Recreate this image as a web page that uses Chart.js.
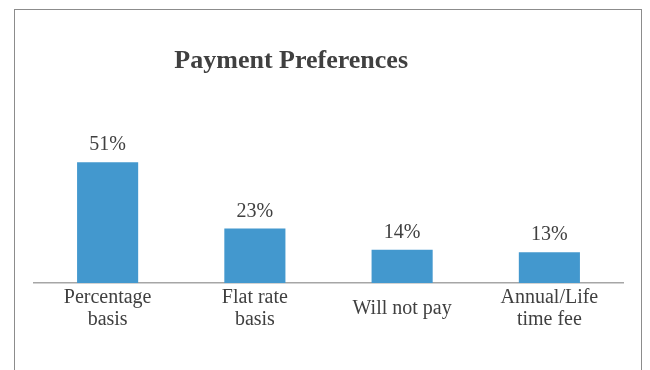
<!DOCTYPE html>
<html>
<head>
<meta charset="utf-8">
<script src="https://cdn.jsdelivr.net/npm/chart.js@4/dist/chart.umd.min.js"></script>
<style>
    html, body { margin: 0; padding: 0; background: #fff; overflow: hidden; }
    #wrap { position: relative; width: 650px; height: 370px; }
    #frame { position: absolute; left: 14px; top: 9px; width: 628px; height: 400px; border: 1px solid #8c8c8c; box-sizing: border-box; }
    #chart { position: absolute; left: 0; top: 0; }
</style>
</head>
<body>
<div id="wrap">
    <div id="frame"></div>
    <canvas id="chart" width="650" height="370"></canvas>
</div>
<script>
const chartTitle = "Payment Preferences";
const categories = [["Percentage", "basis"], ["Flat rate", "basis"], "Will not pay", ["Annual/Life", "time fee"]];
const shares = [51, 23, 14, 13];
const yMax = 60;

const serif = "'Liberation Serif', 'Times New Roman', serif";
const textColor = "#404040";

// title sits a little left of centre, so draw it ourselves
const titlePlugin = {
    id: "sideTitle",
    afterDraw(chart) {
        const ctx = chart.ctx;
        ctx.save();
        ctx.font = "bold 26px " + serif;
        ctx.fillStyle = textColor;
        ctx.textAlign = "center";
        ctx.textBaseline = "alphabetic";
        ctx.fillText(chartTitle, chart.width * 0.448, 68);
        ctx.restore();
    }
};

// percentage written above each bar
const valuePlugin = {
    id: "barValues",
    afterDatasetsDraw(chart) {
        const ctx = chart.ctx;
        const meta = chart.getDatasetMeta(0);
        ctx.save();
        ctx.font = "20px " + serif;
        ctx.fillStyle = textColor;
        ctx.textAlign = "center";
        ctx.textBaseline = "alphabetic";
        meta.data.forEach(function (bar, i) {
            ctx.fillText(shares[i] + "%", bar.x, bar.y - 12);
        });
        ctx.restore();
    }
};

new Chart(document.getElementById("chart"), {
    type: "bar",
    data: {
        labels: categories,
        datasets: [
            {
                data: shares,
                backgroundColor: "#4398ce",
                barPercentage: 0.415,
                categoryPercentage: 1
            }
        ]
    },
    options: {
        responsive: false,
        animation: false,
        events: [],
        layout: {
            padding: { top: 141, left: 34, right: 27, bottom: 13 }
        },
        plugins: {
            legend: { display: false },
            tooltip: { enabled: false }
        },
        scales: {
            x: {
                grid: { display: false, drawTicks: false },
                border: { display: true, color: "#a6a6a6", width: 1.5 },
                ticks: {
                    color: textColor,
                    font: { family: serif, size: 20, lineHeight: 1.1 },
                    padding: 15,
                    maxRotation: 0,
                    autoSkip: false,
                    crossAlign: "center"
                }
            },
            y: {
                display: false,
                min: 0,
                max: yMax
            }
        }
    },
    plugins: [titlePlugin, valuePlugin]
});
</script>
</body>
</html>
